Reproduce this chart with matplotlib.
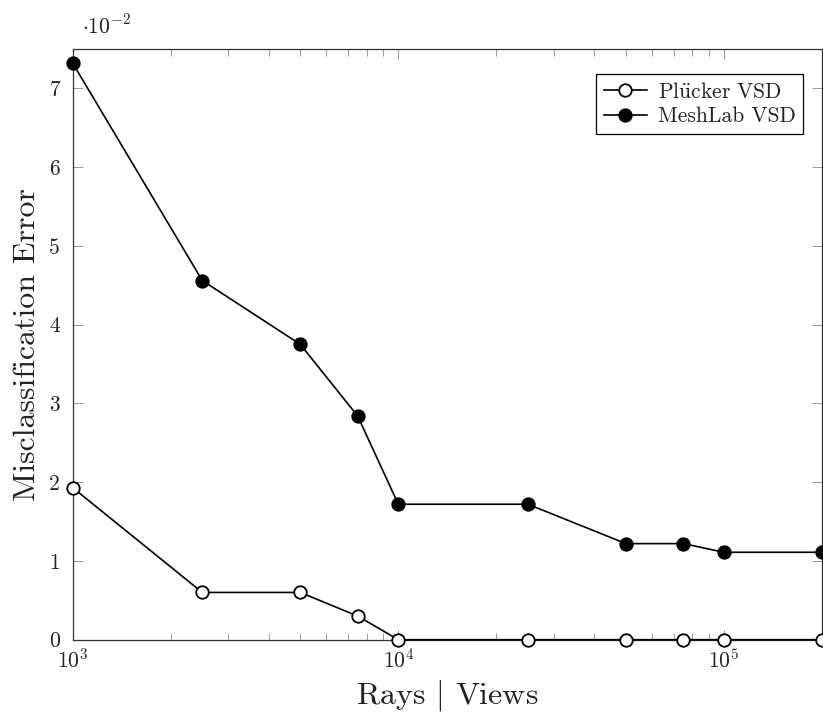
import matplotlib
matplotlib.use("Agg")
import matplotlib.pyplot as plt
from matplotlib.ticker import FuncFormatter, LogLocator, FixedLocator

plt.rcParams['font.family'] = 'serif'
plt.rcParams['font.serif'] = ['cmr10']
plt.rcParams['mathtext.fontset'] = 'cm'
plt.rcParams['axes.unicode_minus'] = False
plt.rcParams['axes.formatter.use_mathtext'] = True

rays = [1000, 2500, 5000, 7500, 10000, 25000, 50000, 75000, 100000, 200000]
plucker = [0.0193, 0.0060, 0.0060, 0.0030, 0.0, 0.0, 0.0, 0.0, 0.0, 0.0]
meshlab = [0.0732, 0.0456, 0.0375, 0.0284, 0.0172, 0.0172, 0.0122, 0.0122, 0.0111, 0.0111]
y_ticks = [0, 0.01, 0.02, 0.03, 0.04, 0.05, 0.06, 0.07]

W, H = 823, 713
fig = plt.figure(figsize=(W / 100, H / 100), dpi=100)
ax = fig.add_axes([72.7 / W, 1 - 639.7 / H, (822 - 72.7) / W, (639.7 - 49) / H])

ax.plot(rays, plucker, color='black', lw=1.2, marker='o', ms=9, mfc='white',
        mec='black', mew=1.3, clip_on=False, zorder=3, label=r'Pl$\ddot{\rm u}$cker VSD')
ax.plot(rays, meshlab, color='black', lw=1.2, marker='o', ms=9, mfc='black',
        mec='black', mew=1.3, clip_on=False, zorder=3, label='MeshLab VSD')

ax.set_xscale('log')
ax.set_xlim(1000, 200000)
ax.set_ylim(0, 0.075)
ax.yaxis.set_major_locator(FixedLocator(y_ticks))
ax.yaxis.set_major_formatter(FuncFormatter(lambda v, p: f"{v * 100:.0f}"))
ax.xaxis.set_major_locator(LogLocator(base=10, numticks=10))
ax.xaxis.set_minor_locator(LogLocator(base=10, subs=range(2, 10), numticks=20))

for s in ax.spines.values():
    s.set_color('#333333')
    s.set_linewidth(0.9)

ax.tick_params(axis='both', which='major', direction='in', length=7, width=0.7,
               color='#999999', labelsize=15.5, labelcolor='#222222',
               top=True, right=True, pad=6)
ax.tick_params(axis='y', which='major', pad=9)
ax.tick_params(axis='x', which='minor', direction='in', length=4.8, width=0.7,
               color='#999999', top=True)
ax.tick_params(axis='y', which='minor', left=False, right=False)

ax.set_xlabel(r'Rays $|$ Views', fontsize=23, color='#222222', labelpad=4)
ax.set_ylabel('Misclassification Error', fontsize=23, color='#222222', labelpad=6)

fig.text(82 / W, 1 - 26 / H, r'$\cdot 10^{-2}$', fontsize=15.5, ha='left',
         va='center', color='#222222')

leg = ax.legend(loc='upper right', bbox_to_anchor=(803 / W, 1 - 74 / H),
                bbox_transform=fig.transFigure, borderaxespad=0, fontsize=15.5,
                fancybox=False, framealpha=1, edgecolor='black', handlelength=2.0,
                handletextpad=0.5, borderpad=0.35, labelspacing=0.25)
leg.get_frame().set_linewidth(0.9)
for t in leg.get_texts():
    t.set_color('#222222')

fig.savefig('out.png', dpi=100)
